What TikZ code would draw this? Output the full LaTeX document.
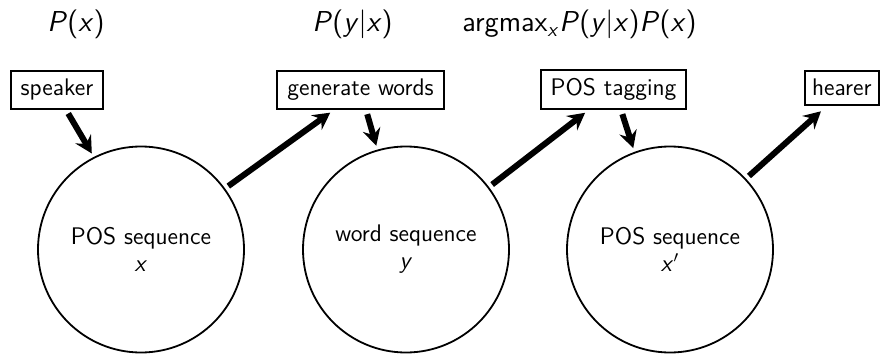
\documentclass[tikz,border=0pt]{standalone}
\usetikzlibrary{arrows.meta}
\begin{document}
\begin{tikzpicture}[x=0.5pt,y=-0.5pt,
  every node/.style={font=\sffamily\fontsize{12}{13.5}\selectfont},
  box/.style={draw,line width=1pt,inner xsep=5pt,inner ysep=4.2pt,anchor=base},
  state/.style={draw,circle,line width=0.9pt,minimum size=103pt,inner sep=0pt,align=center},
  flow/.style={line width=3pt,-{Stealth[length=8.5pt,width=9pt,inset=3pt]},
               shorten <=2pt,shorten >=2pt},
  formula/.style={anchor=base west,inner sep=0pt,font=\sffamily\fontsize{14.4}{17}\selectfont}]
\useasboundingbox (0,0) rectangle (882,353);

% probability labels
\node[formula] (px)  at (47,32)  {\textit{P}(\textit{x})};
\node[formula] (pyx) at (312,32) {\textit{P}(\textit{y}|\textit{x})};
\node[formula] (am)  at (462,32) {argmax\textsubscript{\textit{x}}\textit{P}(\textit{y}|\textit{x})\textit{P}(\textit{x})};

% process boxes
\node[box] (speaker) at (57,96)    {speaker};
\node[box] (gen)     at (360.5,96) {generate words};
\node[box] (pos)     at (613.5,96) {POS tagging};
\node[box,anchor=base west,inner xsep=3.5pt] (hearer) at (804,96) {hearer};

% sequences
\node[state] (c1) at (141,249.5) {POS sequence\\\textit{x}};
\node[state] (c2) at (406,249.5) {word sequence\\\textit{y}};
\node[state] (c3) at (670,249.5) {POS sequence\\\textit{x}$'$};

% channel
\draw[flow] ([xshift=4.6pt]speaker.south) -- (c1.117);
\draw[flow] (c1.36.5) -- ([xshift=-13.5pt]gen.south);
\draw[flow] ([xshift=2.8pt]gen.south) -- (c2.106);
\draw[flow] (c2.37.5) -- ([xshift=-12.6pt]pos.south);
\draw[flow] ([xshift=3.8pt]pos.south) -- (c3.110);
\draw[flow] (c3.43) -- ([xshift=-8.9pt,yshift=-1.5pt]hearer.south);
\end{tikzpicture}
\end{document}
